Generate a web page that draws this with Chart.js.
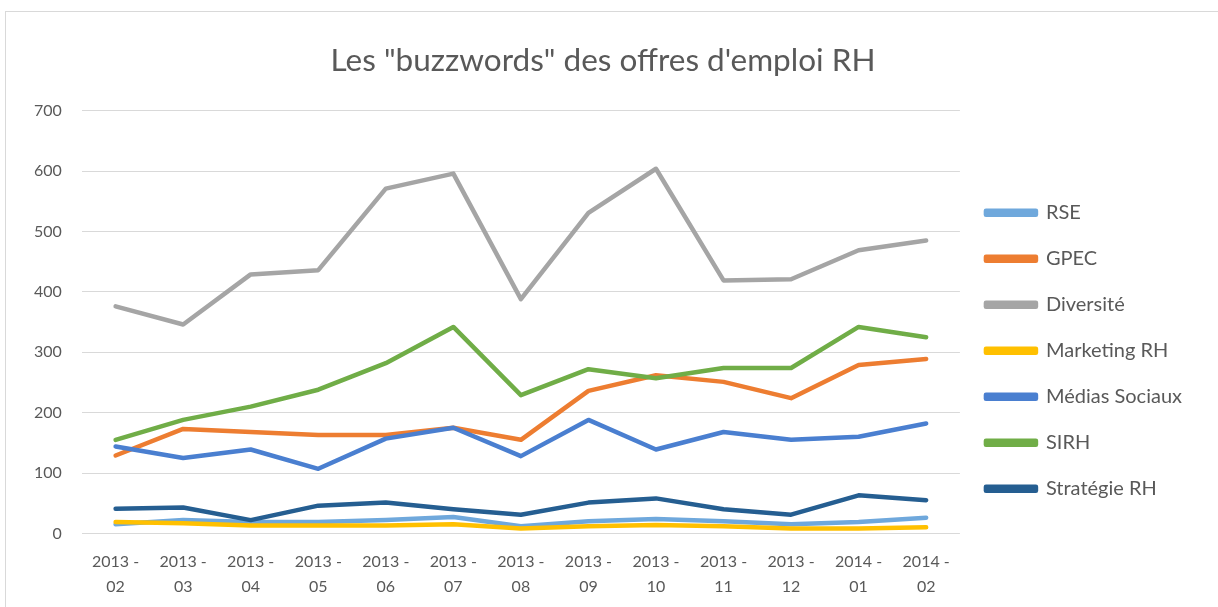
<!DOCTYPE html>
<html>
<head>
<meta charset="utf-8">
<script src="https://cdn.jsdelivr.net/npm/chart.js@4"></script>
<style>
  body { margin: 0; background: #fff; }
  #frame { position: absolute; left: 5px; top: 11px; width: 1240px; height: 640px; border: 1px solid #d9d9d9; }
  #wrap { position: absolute; left: 0; top: 0; width: 1218px; height: 607px; }
</style>
</head>
<body>
<div id="frame"></div>
<div id="wrap"><canvas id="chart"></canvas></div>
<script>
const months = [
    ["2013 -", "02"], ["2013 -", "03"], ["2013 -", "04"], ["2013 -", "05"],
    ["2013 -", "06"], ["2013 -", "07"], ["2013 -", "08"], ["2013 -", "09"],
    ["2013 -", "10"], ["2013 -", "11"], ["2013 -", "12"], ["2014 -", "01"],
    ["2014 -", "02"]
];

const rse = [15, 22, 19, 19, 22, 27, 12, 20, 24, 20, 15, 19, 26];
const gpec = [129, 173, 168, 163, 163, 175, 155, 236, 262, 251, 224, 279, 289];
const diversite = [376, 346, 429, 436, 571, 596, 388, 531, 604, 419, 421, 469, 485];
const marketingRH = [19, 17, 13, 13, 13, 15, 8, 12, 14, 12, 8, 8, 10];
const mediasSociaux = [144, 125, 139, 107, 157, 175, 128, 188, 139, 168, 155, 160, 182];
const sirh = [155, 188, 210, 238, 282, 342, 229, 272, 257, 274, 274, 342, 325];
const strategieRH = [41, 43, 22, 46, 51, 40, 31, 51, 58, 40, 31, 63, 55];

const yTicks = [0, 100, 200, 300, 400, 500, 600, 700];

const series = [
    ["RSE", rse, "#6fa8dc"],
    ["GPEC", gpec, "#ed7d31"],
    ["Diversité", diversite, "#a5a5a5"],
    ["Marketing RH", marketingRH, "#ffc000"],
    ["Médias Sociaux", mediasSociaux, "#4a7fd0"],
    ["SIRH", sirh, "#70ad47"],
    ["Stratégie RH", strategieRH, "#255e91"]
];

const ctx = document.getElementById("chart");
const txt = "#595959";
const fam = "Lato, 'Open Sans', sans-serif";

let datasets = series.map((s, i) => ({
    label: s[0],
    data: s[1],
    borderColor: s[2],
    backgroundColor: s[2],
    borderWidth: 4.5,
    borderCapStyle: "round",
    borderJoinStyle: "round",
    pointRadius: 0,
    tension: 0,
    order: series.length - i
}));

let chart = new Chart(ctx, {
    type: "line",
    data: { labels: months, datasets: datasets },
    options: {
        responsive: true,
        maintainAspectRatio: false,
        animation: false,
        layout: { padding: { left: 14, right: 26, bottom: 0, top: 0 } },
        scales: {
            x: {
                offset: true,
                grid: { display: false },
                border: { display: false },
                ticks: {
                    color: txt,
                    font: { family: fam, size: 16, lineHeight: 1.55 },
                    maxRotation: 0,
                    autoSkip: false,
                    padding: 8
                }
            },
            y: {
                min: 0,
                max: 700,
                afterBuildTicks: (axis) => { axis.ticks = yTicks.map(v => ({ value: v })); },
                grid: { color: "#d9d9d9", lineWidth: 1, drawTicks: false },
                border: { display: false },
                ticks: {
                    color: txt,
                    font: { family: fam, size: 16 },
                    padding: 20
                }
            }
        },
        plugins: {
            legend: {
                position: "right",
                align: "center",
                // empty title only used to push the items down
                title: {
                    display: true,
                    text: " ",
                    font: { size: 12 },
                    padding: { top: 80, bottom: 0 }
                },
                labels: {
                    color: txt,
                    font: { family: fam, size: 20 },
                    boxWidth: 50,
                    boxHeight: 4,
                    padding: 26,
                    sort: (a, b) => a.datasetIndex - b.datasetIndex
                }
            },
            title: {
                display: true,
                text: 'Les "buzzwords" des offres d\'emploi RH',
                color: txt,
                font: { family: fam, size: 31.5, weight: "normal" },
                padding: { top: 42, bottom: 31 }
            },
            tooltip: { enabled: false }
        }
    }
});
</script>
</body>
</html>
